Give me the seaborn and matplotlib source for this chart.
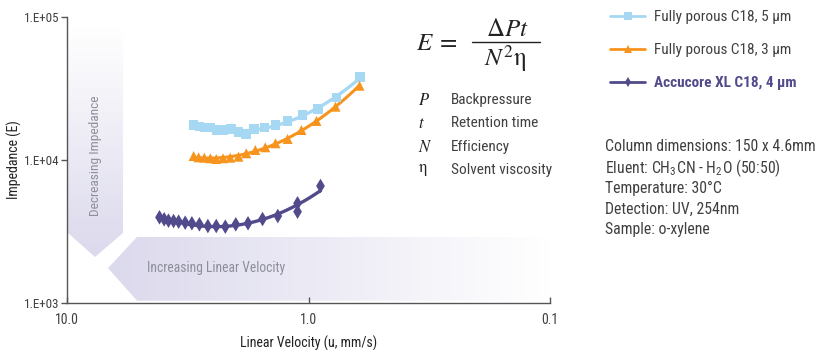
import numpy as np
import pandas as pd
import matplotlib
matplotlib.use("Agg")
import matplotlib.pyplot as plt
import seaborn as sns
from matplotlib.lines import Line2D
from matplotlib.patches import Polygon
from matplotlib import font_manager as fm

# ---------------- data ----------------
vel_5um = [2.99, 2.83, 2.68, 2.55, 2.39, 2.25, 2.09, 1.95, 1.81, 1.68, 1.52, 1.37, 1.22, 1.06, 0.915, 0.765, 0.612]
imp_5um = [17580, 17100, 16830, 16830, 16210, 16210, 16400, 15770, 15200, 16400, 16830, 17580, 18740, 20640, 22740, 27430, 37880]
vel_3um = [2.99, 2.85, 2.70, 2.55, 2.41, 2.26, 2.11, 1.95, 1.81, 1.66, 1.51, 1.37, 1.22, 1.07, 0.927, 0.773, 0.615]
imp_3um = [10660, 10440, 10380, 10280, 10160, 10280, 10380, 10550, 11140, 11750, 12270, 13090, 14030, 16210, 18740, 23590, 33080]
vel_xl = [4.14, 3.96, 3.80, 3.62, 3.45, 3.24, 3.04, 2.83, 2.61, 2.41, 2.21, 2.00, 1.78, 1.55, 1.34, 1.11, 1.11, 0.892]
imp_xl = [3973, 3850, 3765, 3743, 3705, 3645, 3609, 3550, 3454, 3454, 3418, 3550, 3609, 3866, 4058, 4980, 4350, 6580]

series_names = ["Fully porous C18, 5 µm", "Fully porous C18, 3 µm", "Accucore XL C18, 4 µm"]
x_ticks = [10, 1, 0.1]
x_tick_labels = ["10.0", "1.0", "0.1"]
y_ticks = [1e3, 1e4, 1e5]
y_tick_labels = ["1.E+03", "1.E+04", "1.E+05"]

symbols = [r"$P$", r"$t$", r"$N$", r"$\mathrm{\eta}$"]
symbol_desc = ["Backpressure", "Retention time", "Efficiency", "Solvent viscosity"]
conditions = [
    "Column dimensions: 150 x 4.6mm",
    r"Eluent: CH$_\mathregular{3}$CN - H$_\mathregular{2}$O (50:50)",
    "Temperature: 30°C",
    "Detection: UV, 254nm",
    "Sample: o-xylene",
]

# ---------------- style ----------------
sns.set_style("ticks")

entries = fm.fontManager.ttflist
names = {e.name for e in entries}
FAM, STRETCH, CONDENSED = None, "normal", False
for pref in ["Roboto Condensed", "Liberation Sans Narrow", "Arial Narrow", "Open Sans Condensed",
             "Noto Sans Condensed", "DejaVu Sans Condensed"]:
    if pref in names:
        FAM, CONDENSED = pref, True
        break
if FAM is None:
    for pref in ["Roboto", "Noto Sans", "Open Sans", "DejaVu Sans"]:
        cands = [e for e in entries if e.name == pref and "cond" in str(e.stretch).lower()
                 and "extra" not in str(e.stretch).lower() and "ultra" not in str(e.stretch).lower()]
        if cands:
            FAM, STRETCH, CONDENSED = pref, cands[0].stretch, True
            break
if FAM is None:
    FAM = "Roboto"

plt.rcParams["font.family"] = [FAM, "Roboto", "DejaVu Sans"]
plt.rcParams["font.stretch"] = STRETCH
plt.rcParams["mathtext.fontset"] = "stix"
K = 1.0 if CONDENSED else 0.87

C_BLUE = "#a6d8f4"
C_ORANGE = "#f7941d"
C_PURPLE = "#514b8c"
C_TEXT = "#404040"
C_LAV = np.array([219, 217, 236]) / 255.0

W, H = 818, 350
fig = plt.figure(figsize=(W / 100, H / 100), dpi=100)
rect = [67 / W, (H - 303) / H, 483 / W, 286 / H]

bg = fig.add_axes(rect, zorder=0)
bg.set_xlim(0, 1)
bg.set_ylim(0, 1)
bg.axis("off")


def grad_img(direction):
    n = 256
    t = np.linspace(0, 1, n)
    white = np.array([1.0, 1.0, 1.0])
    cols = (1 - t)[:, None] * C_LAV[None, :] + t[:, None] * white[None, :]
    if direction == "v":
        return cols[:, None, :]
    return cols[None, :, :]


vpoly = Polygon([(0.002, 0.965), (0.116, 0.965), (0.116, 0.245), (0.058, 0.161), (0.002, 0.245)],
                closed=True, transform=bg.transData, facecolor="none", edgecolor="none")
bg.add_patch(vpoly)
im = bg.imshow(grad_img("v"), extent=[0.002, 0.116, 0.161, 0.965], origin="lower",
               aspect="auto", interpolation="bilinear")
im.set_clip_path(vpoly)

hpoly = Polygon([(0.085, 0.122), (0.145, 0.231), (1.0, 0.231), (1.0, 0.008), (0.145, 0.008)],
                closed=True, transform=bg.transData, facecolor="none", edgecolor="none")
bg.add_patch(hpoly)
im2 = bg.imshow(grad_img("h"), extent=[0.085, 1.0, 0.008, 0.231], origin="lower",
                aspect="auto", interpolation="bilinear")
im2.set_clip_path(hpoly)

bg.text(0.058, (303 - 156) / 286, "Decreasing Impedance", rotation=90, ha="center", va="center",
        fontsize=9.6 * K, color="#8e8e9c")
bg.text((147 - 67) / 483, (303 - 268) / 286, "Increasing Linear Velocity", ha="left", va="center",
        fontsize=9.8 * K, color="#8e8e9c")

ax = fig.add_axes(rect, zorder=1)
ax.patch.set_alpha(0)
ax.set_xscale("log")
ax.set_yscale("log")

data = [
    (vel_5um, imp_5um, C_BLUE, "s", 48, 2.4),
    (vel_3um, imp_3um, C_ORANGE, "^", 52, 2.2),
    (vel_xl, imp_xl, C_PURPLE, "d", 55, 2.4),
]
for name, (v, e, c, m, s, lw) in zip(series_names, data):
    lv, le = np.log10(v), np.log10(e)
    coef = np.polyfit(lv, le, 2)
    xs = np.linspace(lv.min(), lv.max(), 120)
    fit = pd.DataFrame({"u": 10 ** xs, "E": 10 ** np.polyval(coef, xs)})
    sns.lineplot(data=fit, x="u", y="E", ax=ax, color=c, lw=lw, legend=False, zorder=2)
    pts = pd.DataFrame({"u": v, "E": e})
    sns.scatterplot(data=pts, x="u", y="E", ax=ax, color=c, marker=m, s=s,
                    edgecolor="none", linewidth=0, legend=False, zorder=3)

ax.set_xlim(10, 0.1)
ax.set_ylim(1e3, 1e5)
ax.set_xticks(x_ticks)
ax.set_xticklabels(x_tick_labels)
ax.set_yticks(y_ticks)
ax.set_yticklabels(y_tick_labels)
ax.minorticks_off()
for sp in ["top", "right"]:
    ax.spines[sp].set_visible(False)
for sp in ["left", "bottom"]:
    ax.spines[sp].set_color("#555555")
    ax.spines[sp].set_linewidth(1.0)
ax.tick_params(axis="x", direction="in", length=4, width=1, color="#555555",
               labelsize=10 * K, labelcolor=C_TEXT, pad=7)
ax.tick_params(axis="y", direction="out", length=4, width=1, color="#555555",
               labelsize=9.4 * K, labelcolor=C_TEXT, pad=1.5)

ax.set_xlabel("Linear Velocity (u, mm/s)", fontsize=10 * K, color="#222222")
ax.xaxis.set_label_coords(0.5, (303 - 336) / 286)
ax.set_ylabel("Impedance (E)", fontsize=10 * K, color="#222222")
ax.yaxis.set_label_coords((22 - 67) / 483, 0.5)


def fx(x):
    return x / W


def fy(y):
    return 1 - y / H


# formula  E = dP t / (N^2 eta)
fig.text(fx(416), fy(43), r"$E\;=$", ha="left", va="center", fontsize=18,
         math_fontfamily="stix", color="#222222")
fig.text(fx(507), fy(29), r"$\Delta Pt$", ha="center", va="center", fontsize=18,
         math_fontfamily="stix", color="#222222")
fig.text(fx(505), fy(59), r"$N^{2}\mathrm{\eta}$", ha="center", va="center", fontsize=18,
         math_fontfamily="stix", color="#222222")
fig.add_artist(Line2D([fx(472), fx(540)], [fy(42), fy(42)], transform=fig.transFigure,
                      color="#222222", lw=1.0))

for i, (sym, desc) in enumerate(zip(symbols, symbol_desc)):
    yy = [100, 123, 147, 170][i]
    fig.text(fx(418), fy(yy), sym, ha="left", va="center", fontsize=12,
             math_fontfamily="stix", color="#222222")
    fig.text(fx(451), fy(yy), desc, ha="left", va="center", fontsize=11 * K, color=C_TEXT)

for i, line in enumerate(conditions):
    fig.text(fx(605), fy(147 + 20.7 * i), line, ha="left", va="center", fontsize=11.3 * K,
             color=C_TEXT)

handles = [
    Line2D([0], [0], color=C_BLUE, lw=2, marker="s", markersize=5.5, markeredgewidth=0),
    Line2D([0], [0], color=C_ORANGE, lw=2, marker="^", markersize=5.5, markeredgewidth=0),
    Line2D([0], [0], color=C_PURPLE, lw=2, marker="d", markersize=5, markeredgewidth=0),
]
leg = fig.legend(handles, series_names, loc="upper left", bbox_to_anchor=(fx(610), fy(10.5)),
                 frameon=False, fontsize=11 * K, handlelength=2.3 / K, handletextpad=0.6 / K,
                 labelspacing=1.23 / K, borderpad=0, borderaxespad=0)
for t, col in zip(leg.get_texts(), [C_TEXT, C_TEXT, C_PURPLE]):
    t.set_color(col)
leg.get_texts()[2].set_fontweight("bold")

fig.savefig("out.png", dpi=100)
